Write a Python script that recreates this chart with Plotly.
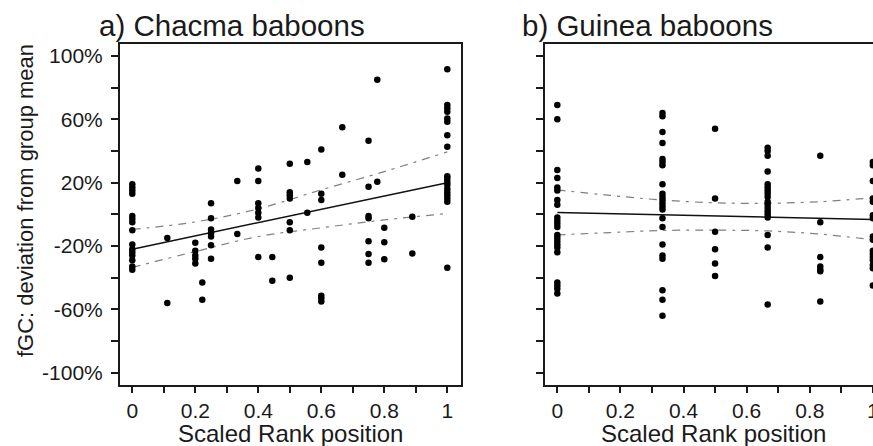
import plotly.graph_objects as go

# ---------------- data ----------------
# a) Chacma baboons: scaled rank levels and fGC deviation (%) at each level
chacma_levels = [0, 1/9, 0.2, 2/9, 0.25, 1/3, 0.4, 4/9, 0.5, 5/9, 0.6, 2/3, 0.75, 7/9, 0.8, 8/9, 1]
chacma_values = [
    [19, 17, 15, 13, -1, -3, -5, -10, -19, -22, -24, -26, -29, -33, -35],
    [-15, -56],
    [-18, -23, -26, -28, -31],
    [-43, -54],
    [7, -2.5, -9.5, -12, -14, -19.5, -28],
    [21, -12.4],
    [29, 21, 7, 4, 1, -2, -27],
    [-27, -42],
    [32, 14, 12, 10, -5, -10, -40],
    [33, 1],
    [41, 13, 9, -21, -30.5, -51.5, -53, -55],
    [55, 25],
    [46.5, 17.4, -1, -2.5, -17, -25, -30.5],
    [85, 20.6],
    [-8.4, -17.7, -28.4],
    [-1.5, -24.7],
    [91.6, 69, 67, 64.8, 60.6, 58.5, 50, 42.7, 24, 22.5, 20.5, 18.5, 16, 14, 12, 10, 8, -33.7],
]
chacma_fit_x = [0, 1]
chacma_fit_y = [-22, 20]
chacma_ci_x = [0, 0.2, 0.4, 0.6, 0.8, 1.0]
chacma_ci_upper = [-9.5, -4.8, 3.5, 15.5, 27, 39.5]
chacma_ci_lower = [-33.5, -23.5, -14, -8.5, -3.5, 0.5]

# b) Guinea baboons
guinea_levels = [0, 1/3, 0.5, 2/3, 5/6, 1]
guinea_values = [
    [69, 60, 28, 23, 17, 15, 9, 6, -2, -4, -6, -8, -13, -15, -17, -19, -21, -24, -43, -45, -47, -50],
    [64, 62, 52, 45, 35, 33, 31, 19, 13, 11, 9, 7, 5, 3, -2.5, -8, -19, -26, -28, -48, -54, -64],
    [54, 10, -11, -22, -31, -39],
    [42, 40, 37, 27, 19, 17, 15, 13, 11, 8, 6, 4, 2, 0, -2, -13, -21, -57],
    [37, -5, -27, -33, -35, -36, -55],
    [33, 31, 21, 10, 8, -0.5, -2.5, -14, -16, -23, -25, -27, -29, -32, -34, -45],
]
guinea_fit_x = [0, 1]
guinea_fit_y = [1.2, -3.2]
guinea_ci_x = [0, 1/6, 1/3, 0.5, 2/3, 5/6, 1]
guinea_ci_upper = [15.4, 12, 9, 7.3, 7, 8, 10.5]
guinea_ci_lower = [-13, -11.5, -10.2, -10, -10.5, -12.5, -16]

x_tick_vals = [0, 0.1, 0.2, 0.3, 0.4, 0.5, 0.6, 0.7, 0.8, 0.9, 1.0]
x_tick_text = ["0", "", "0.2", "", "0.4", "", "0.6", "", "0.8", "", "1"]
y_tick_vals = [-100, -80, -60, -40, -20, 0, 20, 40, 60, 80, 100]
y_tick_text = ["-100%", "", "-60%", "", "-20%", "", "20%", "", "60%", "", "100%"]

titles = ["a) Chacma baboons", "b) Guinea baboons"]
x_title = "Scaled Rank position"
y_title = "fGC: deviation from group mean"

# ---------------- figure ----------------
FONT = "Liberation Sans, Arial, sans-serif"
INK = "#1a1a1a"
W, H = 873, 446
ML, MR, MT, MB = 120, 0, 44, 61
PW = W - ML - MR
PH = H - MT - MB


def expand(levels, values):
    xs, ys = [], []
    for lv, vals in zip(levels, values):
        for v in vals:
            xs.append(lv)
            ys.append(v)
    return xs, ys


fig = go.Figure()

panels = [
    ("x", "y", chacma_levels, chacma_values, chacma_fit_x, chacma_fit_y,
     chacma_ci_x, chacma_ci_upper, chacma_ci_lower),
    ("x2", "y2", guinea_levels, guinea_values, guinea_fit_x, guinea_fit_y,
     guinea_ci_x, guinea_ci_upper, guinea_ci_lower),
]

for xa, ya, lv, vals, fx, fy, cx, cu, cl in panels:
    for band in (cu, cl):
        fig.add_trace(go.Scatter(
            x=cx, y=band, mode="lines", xaxis=xa, yaxis=ya,
            line=dict(color="#808080", width=1.2, dash="8px,6px,3px,6px", shape="spline"),
            hoverinfo="skip"))
    fig.add_trace(go.Scatter(
        x=fx, y=fy, mode="lines", xaxis=xa, yaxis=ya,
        line=dict(color="#111111", width=1.5), hoverinfo="skip"))
    px_, py_ = expand(lv, vals)
    fig.add_trace(go.Scatter(
        x=px_, y=py_, mode="markers", xaxis=xa, yaxis=ya, cliponaxis=False,
        marker=dict(color="#000000", size=6.5, line=dict(width=0))))

axis_common = dict(
    showgrid=False, zeroline=False, showline=True, linewidth=2, linecolor=INK,
    ticks="outside", tickwidth=2, tickcolor=INK, automargin=False,
    tickfont=dict(family=FONT, size=21, color=INK),
)

dom_a = [0, (461 - ML) / PW]
dom_b = [(545 - ML) / PW, 1]
yr = [-107.8, 107.6]

fig.update_layout(
    width=W, height=H,
    margin=dict(l=ML, r=MR, t=MT, b=MB, pad=0, autoexpand=False),
    paper_bgcolor="white", plot_bgcolor="white",
    showlegend=False,
    font=dict(family=FONT, color=INK),
    xaxis=dict(domain=dom_a, range=[-0.039, 1.0435], tickvals=x_tick_vals,
               ticktext=x_tick_text, ticklen=6, mirror=True, anchor="y", **axis_common),
    yaxis=dict(range=yr, tickvals=y_tick_vals, ticktext=y_tick_text, ticklen=7,
               mirror=True, anchor="x", ticklabelstandoff=4, **axis_common),
    xaxis2=dict(domain=dom_b, range=[-0.039, 1.0005], tickvals=x_tick_vals,
                ticktext=x_tick_text, ticklen=6, mirror=True, anchor="y2",
                ticklabeloverflow="allow", **axis_common),
    yaxis2=dict(range=yr, tickvals=y_tick_vals, ticktext=[""] * len(y_tick_vals),
                ticklen=7, mirror=False, anchor="x2", **axis_common),
)

ann = []
ann.append(dict(text=titles[0], xref="paper", yref="paper", x=(97 - ML) / PW, y=1,
                xanchor="left", yanchor="middle", yshift=19, showarrow=False,
                font=dict(family=FONT, size=29.5, color=INK)))
ann.append(dict(text=titles[1], xref="paper", yref="paper", x=(520 - ML) / PW, y=1,
                xanchor="left", yanchor="middle", yshift=19, showarrow=False,
                font=dict(family=FONT, size=29.5, color=INK)))
ann.append(dict(text=y_title, xref="paper", yref="paper", x=(25 - ML) / PW,
                y=(385 - 201) / PH, xanchor="center", yanchor="middle", textangle=-90,
                showarrow=False, font=dict(family=FONT, size=22, color=INK)))
for cxp in (290.3, 713.5):
    ann.append(dict(text=x_title, xref="paper", yref="paper", x=(cxp - ML) / PW, y=0,
                    xanchor="center", yanchor="middle", yshift=-48.5, showarrow=False,
                    font=dict(family=FONT, size=24, color=INK)))
fig.update_layout(annotations=ann)

fig.write_html("out.html", config={"displayModeBar": False},
               post_script="document.body.style.margin='0';document.body.style.overflow='hidden';")
